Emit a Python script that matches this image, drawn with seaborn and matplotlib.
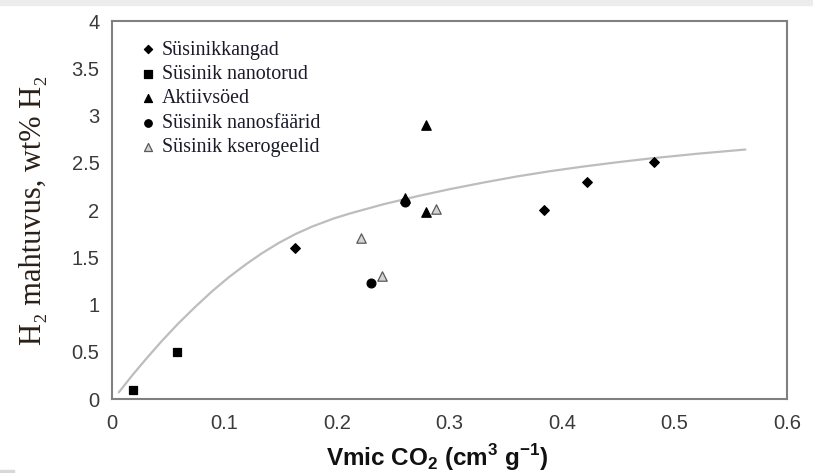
import matplotlib
matplotlib.use('Agg')
import matplotlib.pyplot as plt
import seaborn as sns
import pandas as pd
from matplotlib.patches import Rectangle

# ---------------- data ----------------
series_names = ['Süsinikkangad', 'Süsinik nanotorud', 'Aktiivsöed',
                'Süsinik nanosfäärid', 'Süsinik kserogeelid']
kangad_x = [0.163, 0.384, 0.422, 0.482]
kangad_y = [1.60, 2.00, 2.30, 2.51]
nanotorud_x = [0.019, 0.058]
nanotorud_y = [0.10, 0.50]
aktiiv_x = [0.260, 0.279, 0.279]
aktiiv_y = [2.13, 2.90, 1.98]
nanosf_x = [0.230, 0.260]
nanosf_y = [1.23, 2.08]
kserog_x = [0.221, 0.240, 0.288]
kserog_y = [1.70, 1.30, 2.01]

curve_x = [0.006, 0.018, 0.030, 0.044, 0.059, 0.074, 0.089, 0.104, 0.119,
           0.133, 0.148, 0.163, 0.178, 0.197, 0.212, 0.241, 0.271, 0.300,
           0.330, 0.360, 0.389, 0.419, 0.449, 0.478, 0.520, 0.563]
curve_y = [0.07, 0.25, 0.42, 0.61, 0.80, 0.975, 1.14, 1.29, 1.425,
           1.54, 1.65, 1.745, 1.825, 1.91, 1.965, 2.06, 2.145, 2.22,
           2.29, 2.355, 2.41, 2.46, 2.505, 2.545, 2.595, 2.64]

x_ticks = [0, 0.1, 0.2, 0.3, 0.4, 0.5, 0.6]
x_tick_labels = ['0', '0.1', '0.2', '0.3', '0.4', '0.5', '0.6']
y_ticks = [0, 0.5, 1, 1.5, 2, 2.5, 3, 3.5, 4]
y_tick_labels = ['0', '0.5', '1', '1.5', '2', '2.5', '3', '3.5', '4']

x_label = r'Vmic CO$_\mathbf{2}$ (cm$^\mathbf{3}$ g$^\mathbf{-1}$)'
y_label = 'H₂ mahtuvus, wt% H₂'

# ---------------- plot ----------------
sns.set_theme(style='white')
plt.rcParams['font.family'] = ['Liberation Sans', 'DejaVu Sans']
plt.rcParams['mathtext.fontset'] = 'custom'
plt.rcParams['mathtext.rm'] = 'Liberation Sans'
plt.rcParams['mathtext.bf'] = 'Liberation Sans:bold'

fig = plt.figure(figsize=(8.13, 4.73), dpi=100)
fig.patches.append(Rectangle((0, 1 - 5 / 473), 1, 5 / 473, transform=fig.transFigure,
                             color='#ececec', zorder=0))
fig.patches.append(Rectangle((0, 0), 14 / 813, 3 / 473, transform=fig.transFigure,
                             color='#d8d8d8', zorder=0))
ax = fig.add_axes([112 / 813, 1 - 399 / 473, (787 - 112) / 813, (399 - 21) / 473])

sns.lineplot(x=curve_x, y=curve_y, sort=False, ax=ax, color='#bdbdbd', lw=1.6,
             zorder=1)

styles = [
    (kangad_x, kangad_y, 'D', 24, 'black', 'black'),
    (nanotorud_x, nanotorud_y, 's', 40, 'black', 'black'),
    (aktiiv_x, aktiiv_y, '^', 46, 'black', 'black'),
    (nanosf_x, nanosf_y, 'o', 40, 'black', 'black'),
    (kserog_x, kserog_y, '^', 46, '#d4d4d4', '#5a5a5a'),
]
for name, (xs, ys, m, s, fc, ec) in zip(series_names, styles):
    df = pd.DataFrame({'x': xs, 'y': ys})
    sns.scatterplot(data=df, x='x', y='y', marker=m, s=s, color=fc,
                    edgecolor=ec, linewidth=0.9, ax=ax, label=name, zorder=3)

ax.set_xlim(0, 0.6)
ax.set_ylim(0, 4)
ax.set_xticks(x_ticks)
ax.set_xticklabels(x_tick_labels)
ax.set_yticks(y_ticks)
ax.set_yticklabels(y_tick_labels)

for sp in ax.spines.values():
    sp.set_visible(True)
    sp.set_color('#808080')
    sp.set_linewidth(1.5)

ax.tick_params(axis='both', which='major', direction='out', length=4, width=1,
               color='#808080', labelsize=14.5, labelcolor='#3a3a3a', pad=5)
ax.tick_params(axis='x', pad=7)

ax.set_xlabel(x_label, fontsize=17.5, fontweight='bold', color='#111111')
ax.xaxis.set_label_coords((437 - 112) / 675, -43 / 378)
ax.set_ylabel(y_label, fontsize=22, color='#2a2018',
              family=['Liberation Serif', 'DejaVu Serif'])
ax.yaxis.set_label_coords(-64 / 675, 0.5)

leg = ax.legend(loc='upper left', bbox_to_anchor=(0.022, 0.98), frameon=False,
                prop={'family': ['Liberation Serif', 'DejaVu Serif'], 'size': 14.4},
                labelspacing=0.27, handletextpad=0.25, handlelength=0.9,
                borderaxespad=0.2, markerscale=0.85)
for t in leg.get_texts():
    t.set_color('#1a1a2a')

fig.savefig('out.png', dpi=100)
